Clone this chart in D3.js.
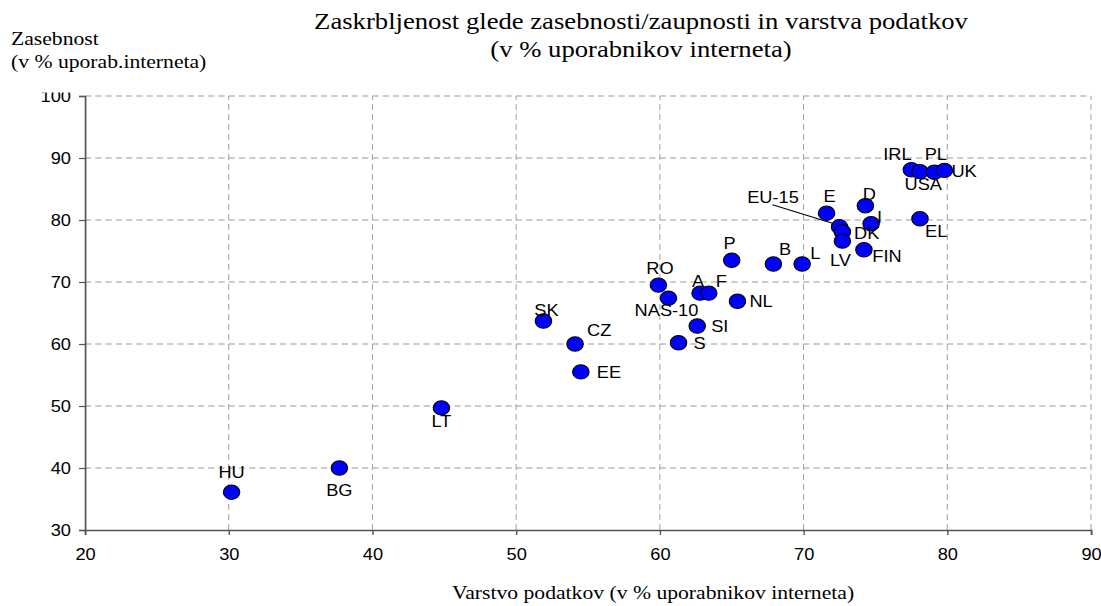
<!DOCTYPE html>
<html>
<head>
<meta charset="utf-8">
<script src="https://d3js.org/d3.v7.min.js"></script>
<style>
  body { margin: 0; background: #fff; }
  svg { display: block; }
</style>
</head>
<body>
<div id="chart"></div>
<script>
// countries / groups
var codes = ["HU","BG","LT","SK","CZ","EE","RO","NAS-10","S","SI","A","F","P","NL","B","L",
             "E","EU-15","DK","LV","FIN","D","I","IRL","EL","USA","PL","UK"];
// Varstvo podatkov (x), % of internet users
var dataProtection = [30.2,37.7,44.8,51.9,54.1,54.5,59.9,60.6,61.3,62.6,62.8,63.4,65.0,65.4,67.9,69.9,
                      71.6,72.5,72.7,72.7,74.2,74.3,74.7,77.5,78.1,78.1,79.1,79.8];
// Zasebnost (y), % of internet users
var privacy = [36.1,40.0,49.7,63.7,60.0,55.5,69.5,67.4,60.2,62.9,68.2,68.2,73.5,66.9,72.9,72.9,
               81.1,78.9,78.1,76.6,75.2,82.3,79.4,88.1,80.2,87.8,87.7,88.0];
var xTicks = [20,30,40,50,60,70,80,90];
var yTicks = [30,40,50,60,70,80,90,100];

var titleLines = ["Zaskrbljenost glede zasebnosti/zaupnosti in varstva podatkov",
                  "(v % uporabnikov interneta)"];
var yTitle = ["Zasebnost", "(v % uporab.interneta)"];
var xTitle = "Varstvo podatkov (v % uporabnikov interneta)";

// label placement: anchor, dx, dy (screen px, from the point centre)
var labelPlace = {
  "HU":["middle",0,-20], "BG":["middle",0,22], "LT":["middle",0,13], "SK":["middle",3,-11],
  "CZ":["start",12,-14], "EE":["start",16,0], "RO":["middle",1.5,-17], "NAS-10":["middle",-2,12],
  "S":["start",15,0], "SI":["start",14,0], "A":["middle",-2,-12], "F":["middle",12.5,-12],
  "P":["middle",-2,-17.5], "NL":["start",12,0], "B":["middle",11.7,-14.6], "L":["middle",13.3,-11],
  "E":["middle",3,-17], "EU-15":["middle",-66.5,-29.5], "DK":["start",11.6,1.5], "LV":["middle",-2,19],
  "FIN":["start",8.4,6.8], "D":["middle",4,-11.7], "I":["start",6,-6.5], "IRL":["middle",-14,-16],
  "EL":["start",5,12], "USA":["middle",3.3,12.3], "PL":["middle",1.5,-18], "UK":["start",7,1]
};

// the original is stretched horizontally, so draw in a narrower viewBox
var SX = 1.14;
var W = 1101, H = 606;
var vw = W / SX;
var margin = {top: 96, right: W - 1091, bottom: H - 530, left: 85};

var svg = d3.select("#chart").append("svg")
  .attr("width", W).attr("height", H)
  .attr("viewBox", "0 0 " + vw + " " + H)
  .attr("preserveAspectRatio", "none");

var x = d3.scaleLinear().domain([20, 90]).range([margin.left / SX, (W - margin.right) / SX]);
var y = d3.scaleLinear().domain([30, 100]).range([H - margin.bottom, margin.top]);

var sans = "'Liberation Sans', Arial, sans-serif";
var serif = "'Liberation Serif', 'Times New Roman', serif";

// grid
var grid = svg.append("g");
grid.selectAll("line.h").data(yTicks.slice(1)).enter().append("line")
  .attr("x1", x(20)).attr("x2", x(90))
  .attr("y1", function(d){ return y(d); }).attr("y2", function(d){ return y(d); })
  .attr("stroke", "#9a9a9a").attr("stroke-width", 1).attr("stroke-dasharray", "5.5,3.5");
grid.selectAll("line.v").data(xTicks.slice(1)).enter().append("line")
  .attr("y1", y(30)).attr("y2", y(100))
  .attr("x1", function(d){ return x(d); }).attr("x2", function(d){ return x(d); })
  .attr("stroke", "#9a9a9a").attr("stroke-width", 1 / SX).attr("stroke-dasharray", "6,4");

// axes
var xAxis = svg.append("g")
  .attr("transform", "translate(0," + y(30) + ")")
  .call(d3.axisBottom(x).tickValues(xTicks).tickSize(5).tickPadding(14).tickFormat(d3.format("d")));
var yAxis = svg.append("g")
  .attr("transform", "translate(" + x(20) + ",0)")
  .call(d3.axisLeft(y).tickValues(yTicks).tickSize(6 / SX).tickPadding(8 / SX).tickFormat(d3.format("d")));

[xAxis, yAxis].forEach(function(a){
  a.select(".domain").attr("stroke", "#555").attr("stroke-width", 1.5);
  a.selectAll(".tick line").attr("stroke", "#555").attr("stroke-width", 1.2);
  a.selectAll(".tick text").attr("font-family", sans).attr("font-size", 16).attr("fill", "#000");
});

// the frame hides the top of the "100" label in the original
svg.append("rect").attr("x", 20 / SX).attr("y", 78).attr("width", 62 / SX).attr("height", 14.5).attr("fill", "#fff");

// leader line for EU-15
var iEU = codes.indexOf("EU-15");
svg.append("line")
  .attr("x1", x(dataProtection[iEU]) - 67 / SX).attr("y1", y(privacy[iEU]) - 22)
  .attr("x2", x(dataProtection[iEU]) + 6.7 / SX).attr("y2", y(privacy[iEU]) + 0.7)
  .attr("stroke", "#000").attr("stroke-width", 1);

// points
var pts = codes.map(function(c, i){ return {code: c, x: dataProtection[i], y: privacy[i]}; });

svg.append("g").selectAll("circle")
  .data(pts).enter().append("circle")
    .attr("cx", function(d){ return x(d.x); })
    .attr("cy", function(d){ return y(d.y); })
    .attr("r", 7.2)
    .attr("fill", "#0000ff")
    .attr("stroke", "#000").attr("stroke-width", 1);

svg.append("g").selectAll("text")
  .data(pts).enter().append("text")
    .attr("x", function(d){ return x(d.x) + labelPlace[d.code][1] / SX; })
    .attr("y", function(d){ return y(d.y) + labelPlace[d.code][2]; })
    .attr("dy", "0.36em")
    .attr("text-anchor", function(d){ return labelPlace[d.code][0]; })
    .attr("font-family", sans).attr("font-size", 16).attr("fill", "#000")
    .text(function(d){ return d.code; });

// titles
svg.append("g").selectAll("text").data(titleLines).enter().append("text")
  .attr("x", 641 / SX).attr("y", function(d, i){ return 29 + i * 28.5; })
  .attr("text-anchor", "middle")
  .attr("font-family", serif).attr("font-size", 23.4).attr("fill", "#000")
  .text(function(d){ return d; });

svg.append("g").selectAll("text").data(yTitle).enter().append("text")
  .attr("x", 11 / SX).attr("y", function(d, i){ return 45 + i * 23; })
  .attr("font-family", serif).attr("font-size", 19).attr("fill", "#000")
  .text(function(d){ return d; });

svg.append("text")
  .attr("x", 452 / SX).attr("y", 599)
  .attr("font-family", serif).attr("font-size", 19).attr("fill", "#000")
  .text(xTitle);
</script>
</body>
</html>
